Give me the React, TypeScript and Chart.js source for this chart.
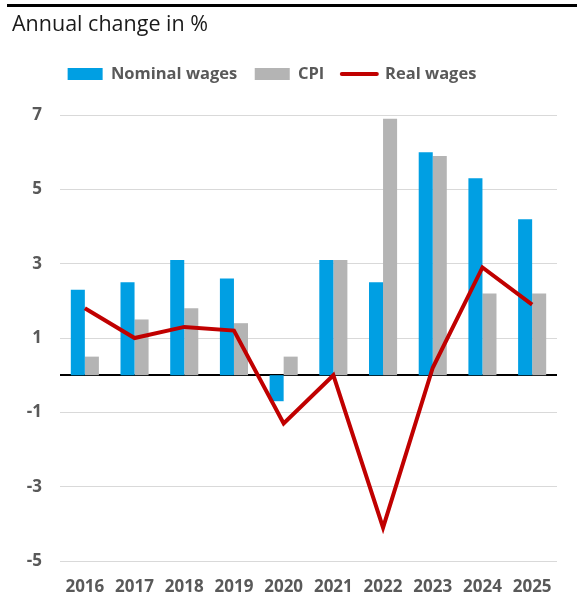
import React, { useEffect, useRef } from 'react';
import { Chart, registerables } from 'chart.js';

Chart.register(...registerables);

const years = ['2016', '2017', '2018', '2019', '2020', '2021', '2022', '2023', '2024', '2025'];
const nominalWages = [2.3, 2.5, 3.1, 2.6, -0.7, 3.1, 2.5, 6.0, 5.3, 4.2];
const cpi = [0.5, 1.5, 1.8, 1.4, 0.5, 3.1, 6.9, 5.9, 2.2, 2.2];
const realWages = [1.8, 1.0, 1.3, 1.2, -1.3, 0.0, -4.1, 0.2, 2.9, 1.9];
const yMin = -5;
const yMax = 7;
const yStep = 2;

const BLUE = '#009fe3';
const GREY = '#b4b4b4';
const RED = '#c00000';
const TEXT = '#595959';
const FONT = "'Open Sans', 'Noto Sans', sans-serif";

const legendLayout = {
  id: 'legendLayout',
  beforeInit(chart: any) {
    const legend = chart.legend;
    if (!legend) return;
    const fit = legend.fit;
    legend.fit = function () {
      fit.call(this);
      this.height += 22.8;
    };
    const draw = legend.draw;
    legend.draw = function () {
      const c = this.ctx;
      c.save();
      c.translate(-12.5, 0);
      draw.call(this);
      c.restore();
    };
  },
};

const zeroLine = {
  id: 'zeroLine',
  beforeDatasetsDraw(chart: any) {
    const { ctx, chartArea, scales } = chart;
    const y = Math.round(scales.y.getPixelForValue(0));
    ctx.save();
    ctx.strokeStyle = '#000';
    ctx.lineWidth = 2;
    ctx.beginPath();
    ctx.moveTo(chartArea.left, y);
    ctx.lineTo(chartArea.right, y);
    ctx.stroke();
    ctx.restore();
  },
};

export default function App() {
  const ref = useRef<HTMLCanvasElement>(null);

  useEffect(() => {
    document.body.style.margin = '0';
    const chart = new Chart(ref.current as HTMLCanvasElement, {
      type: 'bar',
      data: {
        labels: years,
        datasets: [
          {
            type: 'bar',
            label: 'Nominal wages',
            data: nominalWages,
            backgroundColor: BLUE,
            categoryPercentage: 0.565,
            barPercentage: 1,
            order: 1,
          } as any,
          {
            type: 'bar',
            label: 'CPI',
            data: cpi,
            backgroundColor: GREY,
            categoryPercentage: 0.565,
            barPercentage: 1,
            order: 1,
          } as any,
          {
            type: 'line',
            label: 'Real wages',
            data: realWages,
            borderColor: RED,
            backgroundColor: RED,
            borderWidth: 4,
            tension: 0,
            pointRadius: 0,
            pointHoverRadius: 0,
            fill: false,
            order: 0,
          } as any,
        ],
      },
      options: {
        responsive: false,
        animation: false,
        devicePixelRatio: 1,
        layout: { padding: { left: 12, right: 20, top: 0, bottom: 0 } },
        plugins: {
          tooltip: { enabled: false },
          title: {
            display: true,
            text: 'Annual change in %',
            align: 'start',
            color: '#1a1a1a',
            font: { family: FONT, size: 21.5, weight: 'normal' },
            padding: { top: 12, bottom: 10.5 },
          },
          legend: {
            display: true,
            position: 'top',
            align: 'center',
            labels: {
              usePointStyle: true,
              pointStyleWidth: 35,
              boxHeight: 12,
              padding: 17.5,
              color: TEXT,
              font: { family: FONT, size: 16.5, weight: 'bold' },
              sort: (a: any, b: any) => a.datasetIndex - b.datasetIndex,
              generateLabels: (ch: any) =>
                Chart.defaults.plugins.legend.labels.generateLabels(ch).map((l: any) =>
                  l.datasetIndex === 2
                    ? { ...l, pointStyle: 'line', strokeStyle: RED, fillStyle: RED, lineWidth: 4, lineCap: 'round' }
                    : { ...l, pointStyle: 'rect', lineWidth: 0 }
                ),
            },
          },
        },
        scales: {
          x: {
            afterFit(scale: any) {
              scale.height = 38;
            },
            grid: { display: false, drawTicks: false },
            border: { display: false },
            ticks: {
              color: TEXT,
              font: { family: FONT, size: 17, weight: 'bold' },
              padding: 16,
              maxRotation: 0,
            },
          },
          y: {
            min: yMin,
            max: yMax,
            afterFit(scale: any) {
              scale.width = 48;
            },
            border: { display: false },
            grid: { color: '#d9d9d9', lineWidth: 1, drawTicks: false },
            ticks: {
              stepSize: yStep,
              color: TEXT,
              font: { family: FONT, size: 17, weight: 'bold' },
              padding: 18,
            },
          },
        },
      },
      plugins: [legendLayout, zeroLine],
    } as any);
    return () => chart.destroy();
  }, []);

  return (
    <div style={{ position: 'relative', width: 577, height: 599, background: '#fff' }}>
      <div style={{ position: 'absolute', left: 7, top: 4, width: 570, height: 3, background: '#000' }} />
      <canvas ref={ref} width={577} height={599} style={{ display: 'block' }} />
    </div>
  );
}
